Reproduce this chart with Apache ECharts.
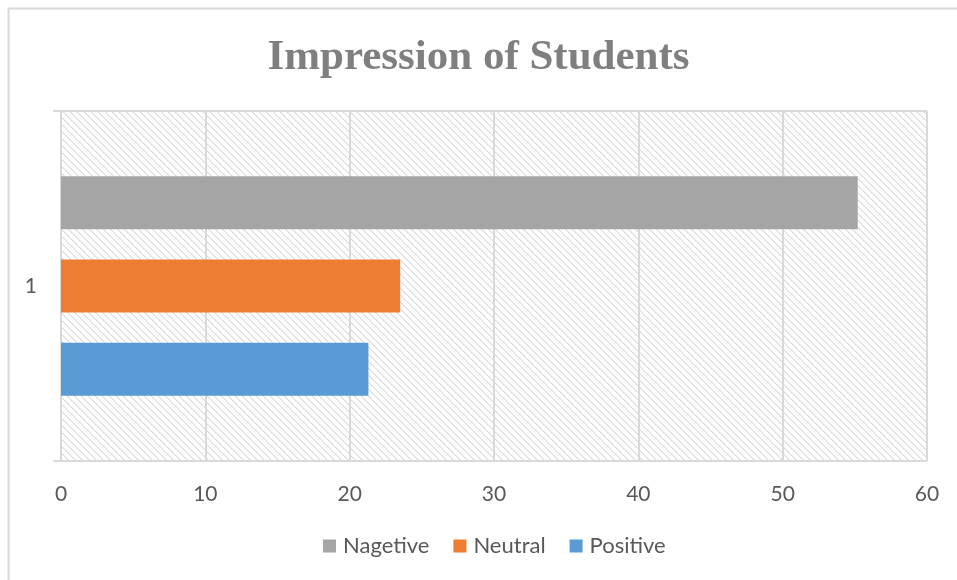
<!DOCTYPE html>
<html>
<head>
<meta charset="utf-8">
<script src="https://cdn.jsdelivr.net/npm/echarts@6/dist/echarts.min.js"></script>
<style>
  html, body { margin: 0; padding: 0; background: #fff; overflow: hidden; }
  #myChart { width: 957px; height: 580px; }
</style>
</head>
<body>
<div id="myChart"></div>
<script>
// data
var categories = ['1'];
var positive = [21.3];
var neutral = [23.5];
var negative = [55.2];
var valueTicks = [0, 10, 20, 30, 40, 50, 60];

// diagonal hatch for the plot background
function hatch() {
    var c = document.createElement('canvas');
    c.width = 7;
    c.height = 7;
    var ctx = c.getContext('2d');
    ctx.fillStyle = '#fff';
    ctx.fillRect(0, 0, 7, 7);
    for (var i = 0; i < 7; i++) {
        ctx.fillStyle = '#d9d9d9';
        ctx.fillRect(i, i, 1, 1);
        ctx.fillStyle = '#efefef';
        ctx.fillRect((i + 1) % 7, i, 1, 1);
    }
    return c;
}

var textColor = '#595959';
var myChart = echarts.init(document.getElementById('myChart'));
var option = {
    animation: false,
    backgroundColor: '#fff',
    title: {
        text: 'Impression of Students',
        left: 'center',
        top: 31,
        textStyle: {
            fontFamily: 'Liberation Serif',
            fontWeight: 'bold',
            fontSize: 43,
            color: '#7f7f7f'
        }
    },
    graphic: [{
        type: 'rect',
        shape: { x: 8.5, y: 8.5, width: 2000, height: 2000 },
        style: { fill: null, stroke: '#d9d9d9', lineWidth: 2 },
        silent: true
    }],
    legend: {
        data: ['Nagetive', 'Neutral', 'Positive'],
        bottom: 18,
        left: 318,
        itemWidth: 13,
        itemHeight: 13,
        itemGap: 24,
        icon: 'rect',
        textStyle: { fontFamily: 'Lato', fontSize: 22, color: textColor, padding: [0, 0, 0, 2] }
    },
    grid: {
        left: 61,
        right: 30,
        top: 111,
        bottom: 119,
        show: true,
        borderWidth: 0,
        backgroundColor: { image: hatch(), repeat: 'repeat' }
    },
    xAxis: {
        type: 'value',
        min: valueTicks[0],
        max: valueTicks[valueTicks.length - 1],
        interval: 10,
        axisLine: { show: false },
        axisTick: { show: false },
        axisLabel: { fontFamily: 'Lato', fontSize: 21, color: textColor, margin: 23 },
        splitLine: { lineStyle: { color: '#d9d9d9', width: 2 } }
    },
    yAxis: {
        type: 'category',
        data: categories,
        axisLine: { show: true, lineStyle: { color: '#d9d9d9', width: 2 } },
        axisTick: { show: true, length: 8, lineStyle: { color: '#d9d9d9', width: 2 } },
        axisLabel: { fontFamily: 'Lato', fontSize: 21, color: textColor, margin: 24 },
        splitLine: { show: true, lineStyle: { color: '#d9d9d9', width: 2 } }
    },
    series: [
        {
            name: 'Nagetive',
            type: 'bar',
            data: negative,
            barWidth: 53,
            barGap: '57%',
            itemStyle: { color: '#a5a5a5' }
        },
        {
            name: 'Neutral',
            type: 'bar',
            data: neutral,
            barWidth: 53,
            barGap: '57%',
            itemStyle: { color: '#ed7d31' }
        },
        {
            name: 'Positive',
            type: 'bar',
            data: positive,
            barWidth: 53,
            barGap: '57%',
            itemStyle: { color: '#5b9bd5' }
        }
    ]
};
myChart.setOption(option);
</script>
</body>
</html>
